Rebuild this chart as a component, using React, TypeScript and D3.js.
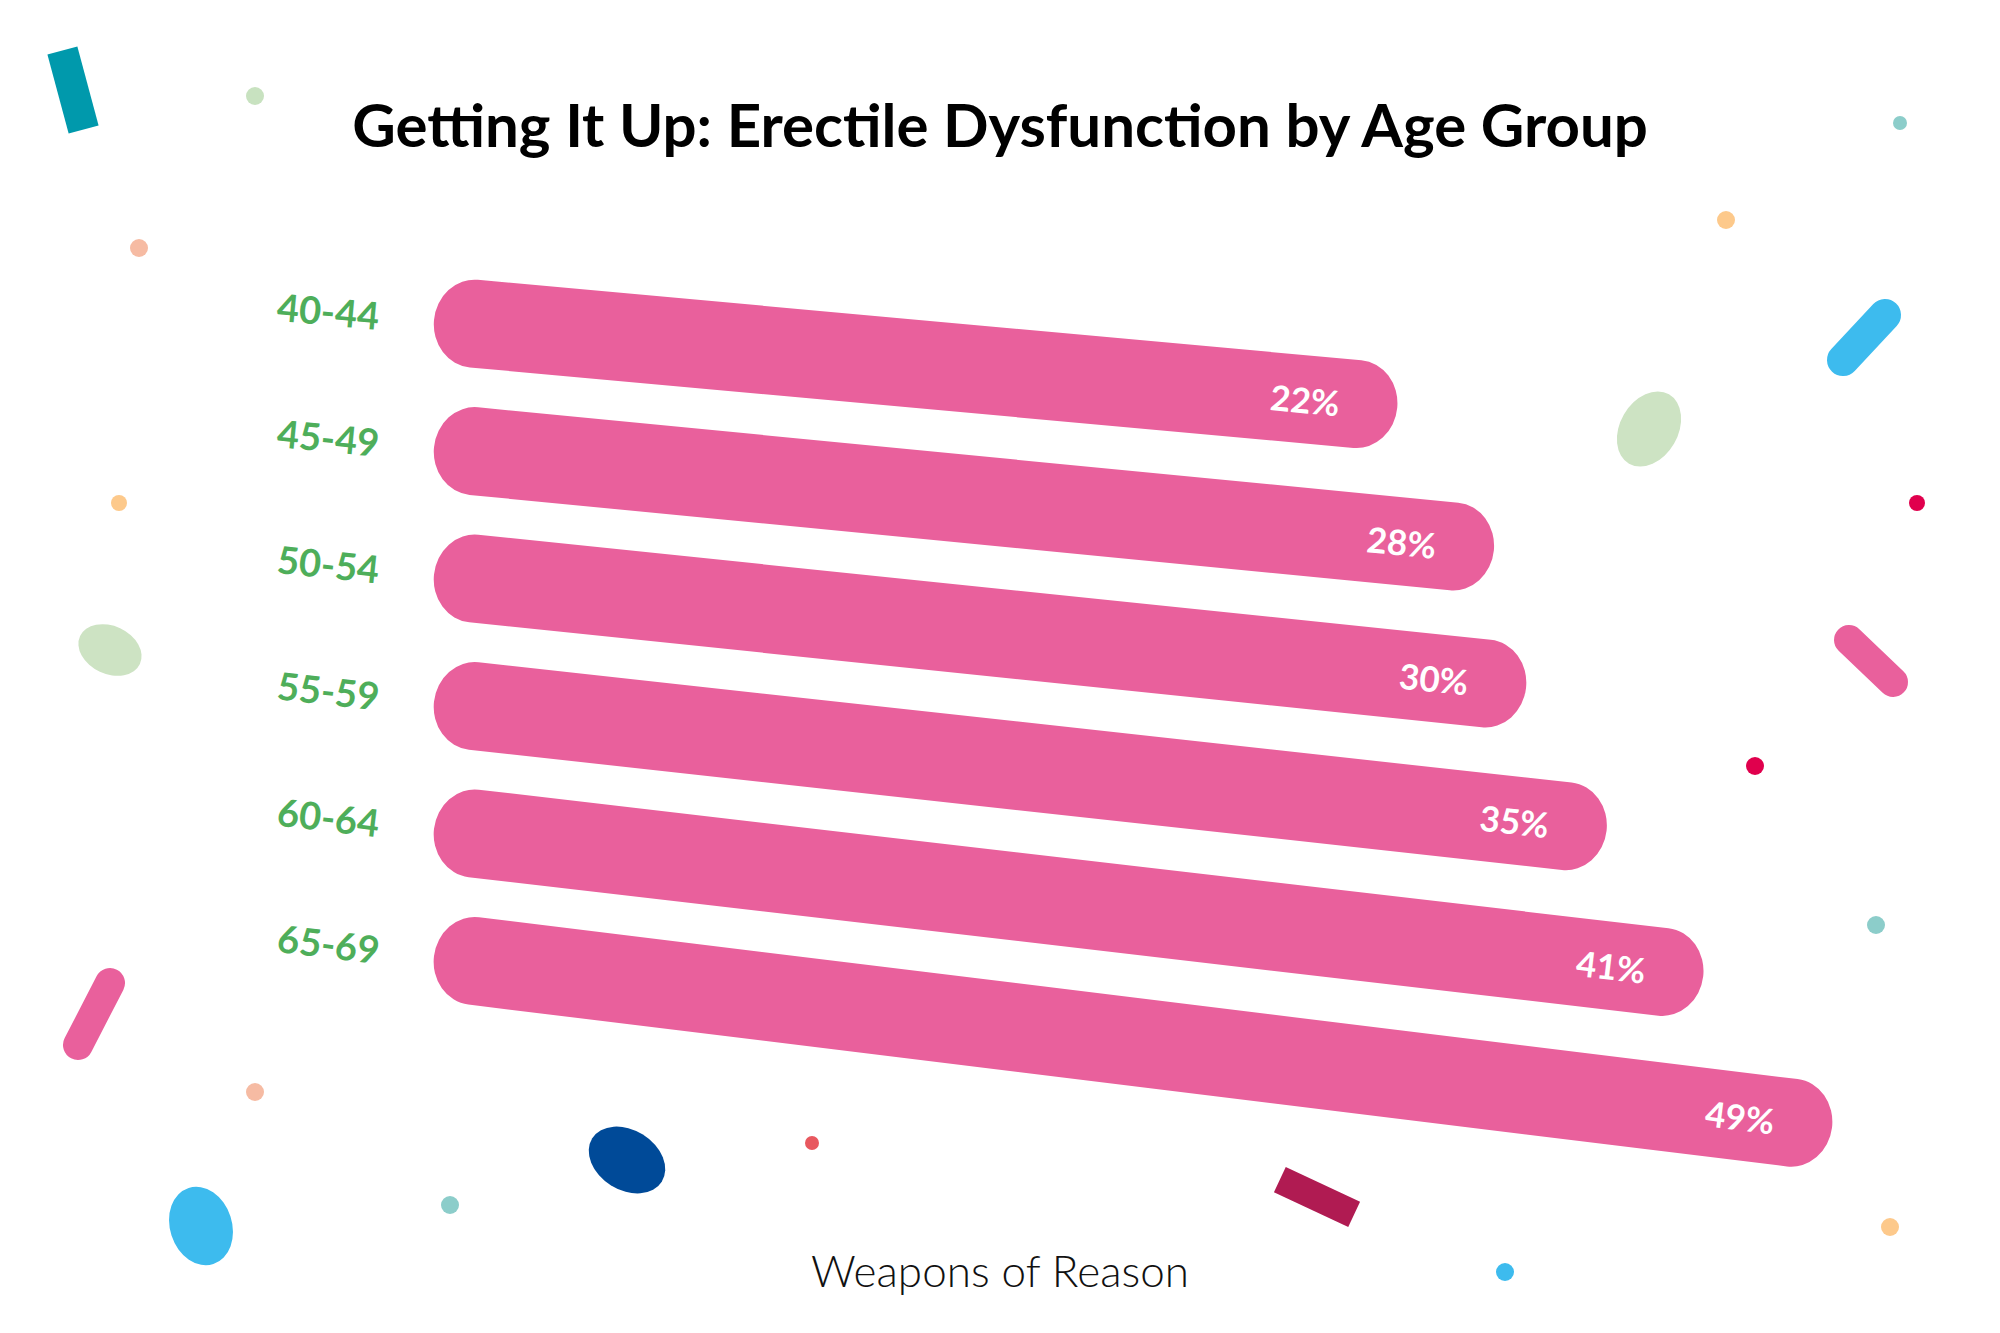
import React from 'react'
import * as d3 from 'd3'

const ageGroups = ['40-44', '45-49', '50-54', '55-59', '60-64', '65-69']
const edShare = [22, 28, 30, 35, 41, 49]
const title = 'Getting It Up: Erectile Dysfunction by Age Group'
const credit = 'Weapons of Reason'

// confetti, purely decorative
const dots = [
    { cx: 255, cy: 96, r: 9, fill: '#C8E2C0' },
    { cx: 139, cy: 248, r: 9, fill: '#F6BBA3' },
    { cx: 119, cy: 503, r: 8, fill: '#FDC98B' },
    { cx: 255, cy: 1092, r: 9, fill: '#F6BBA3' },
    { cx: 450, cy: 1205, r: 9, fill: '#8CCDCA' },
    { cx: 812, cy: 1143, r: 7, fill: '#E8585F' },
    { cx: 1505, cy: 1272, r: 9, fill: '#3DBBEE' },
    { cx: 1890, cy: 1227, r: 9, fill: '#FDC98B' },
    { cx: 1876, cy: 925, r: 9, fill: '#8CCDCA' },
    { cx: 1755, cy: 766, r: 9, fill: '#E0004D' },
    { cx: 1917, cy: 503, r: 8, fill: '#E0004D' },
    { cx: 1726, cy: 220, r: 9, fill: '#FDC98B' },
    { cx: 1900, cy: 123, r: 7, fill: '#8CCDCA' },
]
const blobs = [
    { cx: 110, cy: 650, rx: 33, ry: 24, rot: 25, fill: '#CDE3C3' },
    { cx: 201, cy: 1226, rx: 31, ry: 40, rot: -18, fill: '#3DBBEE' },
    { cx: 627, cy: 1160, rx: 41, ry: 30, rot: 32, fill: '#004A98' },
    { cx: 1649, cy: 429, rx: 29, ry: 40, rot: 30, fill: '#CDE3C3' },
]
const sticks = [
    { x1: 110, y1: 983, x2: 78, y2: 1045, w: 30, fill: '#E9609C' },
    { x1: 1849, y1: 640, x2: 1893, y2: 682, w: 30, fill: '#E9609C' },
    { x1: 1885, y1: 315, x2: 1843, y2: 360, w: 32, fill: '#3DBBEE' },
]
const slabs = [
    { cx: 73, cy: 90, w: 31, h: 82, rot: -15, fill: '#0099AC' },
    { cx: 1317, cy: 1197, w: 82, h: 28, rot: 25, fill: '#B01B52' },
]

const W = 2000
const H = 1333
const barLeft = 434
const pink = '#E9609C'

const App: React.FC = () => {
    const x = d3.scaleLinear().domain([0, 49]).range([1043, 1832])
    const y = d3
        .scaleBand()
        .domain(ageGroups)
        .range([276, 1000])
        .paddingInner(0.308)
    const bh = y.bandwidth()

    return (
        <div style={{ position: 'absolute', left: 0, top: 0 }}>
            <svg width={W} height={H} style={{ display: 'block', background: '#fff' }}>
                {slabs.map((s, i) => (
                    <rect
                        key={'s' + i}
                        x={s.cx - s.w / 2}
                        y={s.cy - s.h / 2}
                        width={s.w}
                        height={s.h}
                        fill={s.fill}
                        transform={`rotate(${s.rot},${s.cx},${s.cy})`}
                    />
                ))}
                {blobs.map((b, i) => (
                    <ellipse
                        key={'b' + i}
                        cx={b.cx}
                        cy={b.cy}
                        rx={b.rx}
                        ry={b.ry}
                        fill={b.fill}
                        transform={`rotate(${b.rot},${b.cx},${b.cy})`}
                    />
                ))}
                {sticks.map((s, i) => (
                    <line
                        key={'l' + i}
                        x1={s.x1}
                        y1={s.y1}
                        x2={s.x2}
                        y2={s.y2}
                        stroke={s.fill}
                        strokeWidth={s.w}
                        strokeLinecap="round"
                    />
                ))}
                {dots.map((d, i) => (
                    <circle key={'d' + i} cx={d.cx} cy={d.cy} r={d.r} fill={d.fill} />
                ))}

                <text
                    x={W / 2}
                    y={147}
                    textAnchor="middle"
                    fontFamily="Lato, sans-serif"
                    fontWeight={700}
                    fontSize={60}
                    fill="#000"
                >
                    {title}
                </text>

                {ageGroups.map((g, i) => {
                    const angle = 5.2 + i * 0.36
                    const cy = (y(g) || 0) + bh / 2
                    const len = (x(edShare[i]) - barLeft) / Math.cos((angle * Math.PI) / 180)
                    return (
                        <g key={g} transform={`rotate(${angle},${barLeft},${cy})`}>
                            <rect
                                x={barLeft}
                                y={cy - bh / 2}
                                width={len}
                                height={bh}
                                rx={40}
                                ry={bh / 2}
                                fill={pink}
                            />
                            <text
                                x={barLeft - 55}
                                y={cy}
                                textAnchor="end"
                                dominantBaseline="central"
                                fontFamily="Lato, sans-serif"
                                fontWeight={700}
                                fontSize={38}
                                fill="#4EAE5A"
                            >
                                {g}
                            </text>
                            <text
                                x={barLeft + len - 58}
                                y={cy}
                                textAnchor="end"
                                dominantBaseline="central"
                                fontFamily="Lato, sans-serif"
                                fontWeight={700}
                                fontSize={35}
                                fill="#fff"
                            >
                                {edShare[i] + '%'}
                            </text>
                        </g>
                    )
                })}

                <text
                    x={W / 2}
                    y={1287}
                    textAnchor="middle"
                    fontFamily="Lato, sans-serif"
                    fontWeight={300}
                    fontSize={44}
                    fill="#111"
                >
                    {credit}
                </text>
            </svg>
        </div>
    )
}

export default App
